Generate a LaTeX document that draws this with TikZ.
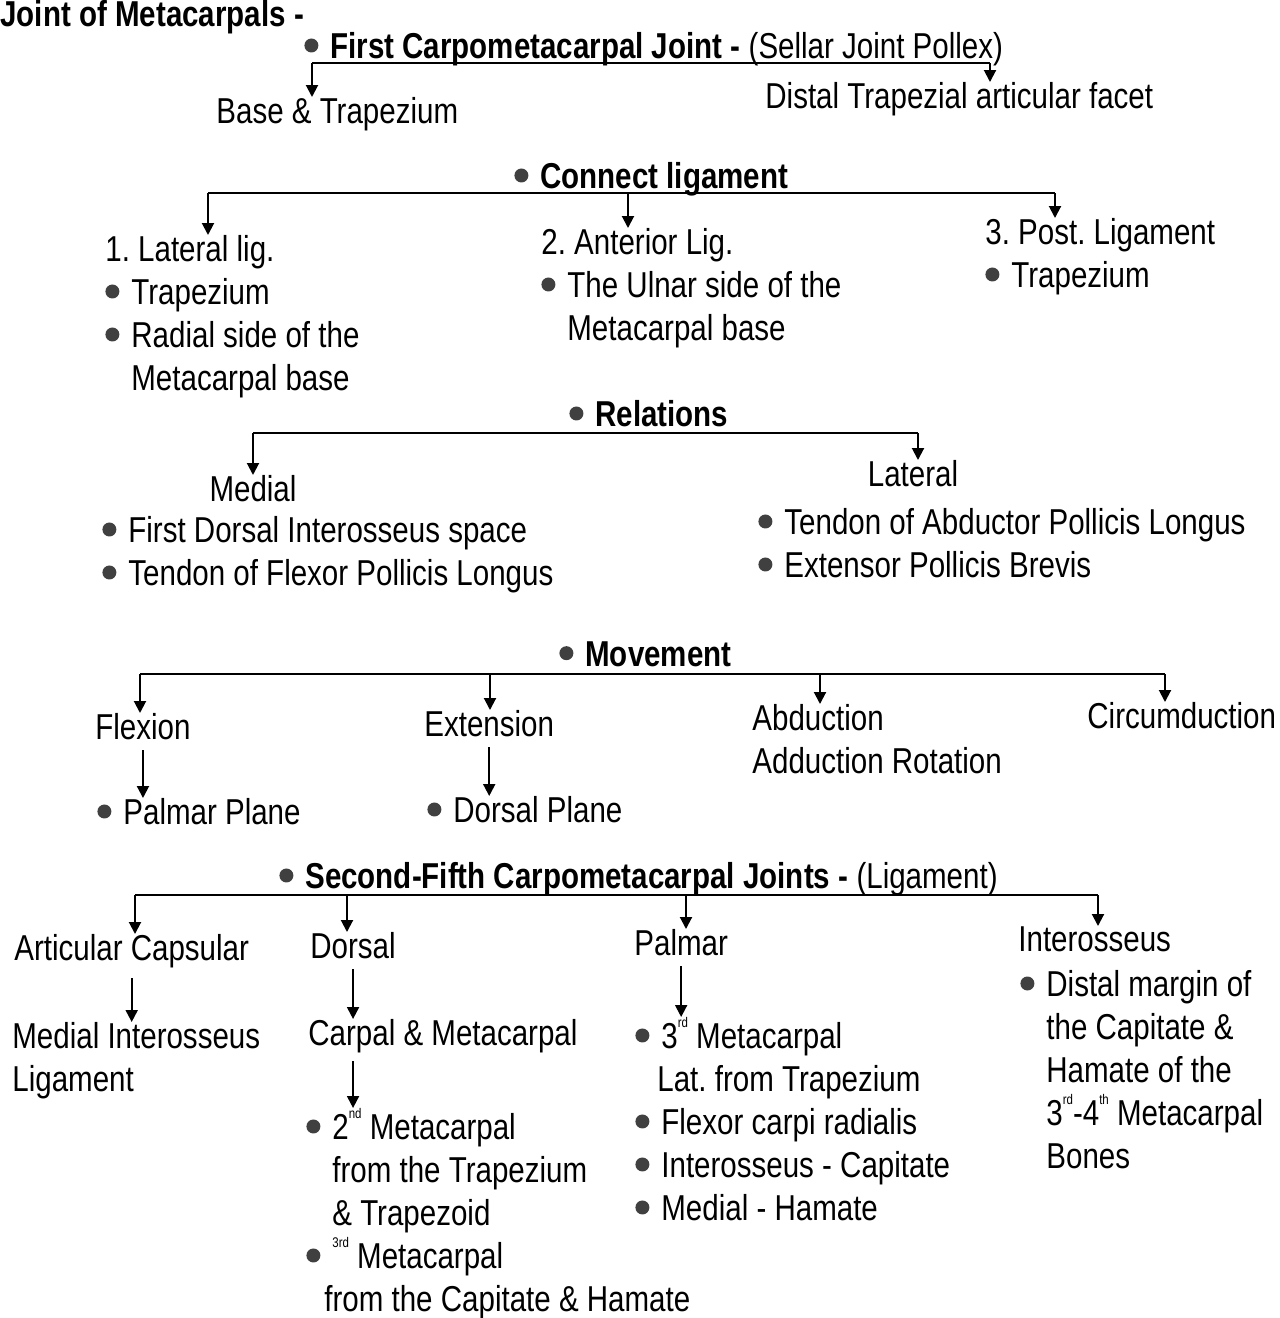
\documentclass[tikz,border=0pt]{standalone}
\usepackage{fontspec}
\setmainfont[FakeStretch=0.82]{Liberation Sans}
\usepackage{xcolor}
\usetikzlibrary{arrows.meta,positioning}
\definecolor{bulgray}{HTML}{404040}
\newcommand{\bul}{\makebox[13pt][l]{\tikz[baseline={(0pt,-6.5pt)}]\fill[bulgray] (0pt,0pt) circle (3.5pt);}}
\newcommand{\hang}{\hspace*{13pt}}
\newcommand{\supr}[1]{\raisebox{1.1ex}{\fontsize{7}{7}\selectfont #1}}
\frenchspacing

\begin{document}
\begin{tikzpicture}[
    x=0.5pt, y=-0.5pt,
    txt/.style={inner sep=0pt, anchor=north west, align=left, font=\fontsize{18}{21.5}\selectfont},
    head/.style={txt, font=\fontsize{18}{21.5}\selectfont\bfseries},
    line/.style={line width=1pt},
    arrow/.style={-{Triangle[length=6pt,width=6pt]}, line width=1pt}
]
\useasboundingbox (0,0) rectangle (1280,1318);

\node[head] (title) at (0,0) {Joint of Metacarpals -};

% First carpometacarpal joint
\node[head] (first) at (304,32) {\bul First Carpometacarpal Joint - \mdseries(Sellar Joint Pollex)};
\node[txt] (base) at (216,97) {Base \& Trapezium};
\node[txt] (distal) at (765,82) {Distal Trapezial articular facet};
\coordinate (fl) at (312,63);
\coordinate (fr) at (990,63);
\draw[line] (fl) -- (fr);
\draw[arrow] (fl) -- (fl |- base.north);
\draw[arrow] (fr) -- (fr |- distal.north);

% Connect ligament
\node[head] (conn) at (514,162) {\bul Connect ligament};
\node[txt] (lat) at (105,235) {1. Lateral lig.\\ \bul Trapezium\\ \bul Radial side of the\\ \hang Metacarpal base};
\node[txt] (ant) at (541,228) {2. Anterior Lig.\\ \bul The Ulnar side of the\\ \hang Metacarpal base};
\node[txt] (post) at (985,218) {3. Post. Ligament\\ \bul Trapezium};
\coordinate (cl) at (208,193);
\coordinate (cm) at (628,193);
\coordinate (cr) at (1055,193);
\draw[line] (cl) -- (cr);
\draw[arrow] (cl) -- (cl |- lat.north);
\draw[arrow] (cm) -- (cm |- ant.north);
\draw[arrow] (cr) -- (cr |- post.north);

% Relations
\node[head] (rel) at (569,400) {\bul Relations};
\node[txt, anchor=north] (med) at (253,475) {Medial};
\node[txt] (meditems) at (102,516) {\bul First Dorsal Interosseus space\\ \bul Tendon of Flexor Pollicis Longus};
\node[txt, anchor=north] (latr) at (913,460) {Lateral};
\node[txt] (latitems) at (758,508) {\bul Tendon of Abductor Pollicis Longus\\ \bul Extensor Pollicis Brevis};
\coordinate (rl) at (253,433);
\coordinate (rr) at (918,433);
\draw[line] (rl) -- (rr);
\draw[arrow] (rl) -- (rl |- med.north);
\draw[arrow] (rr) -- (rr |- latr.north);

% Movement
\node[head] (mov) at (559,641) {\bul Movement};
\node[txt] (flex) at (95,713) {Flexion};
\node[txt] (palm) at (97,798) {\bul Palmar Plane};
\node[txt] (ext) at (424,710) {Extension};
\node[txt] (dors) at (427,796) {\bul Dorsal Plane};
\node[txt] (abd) at (752,704) {Abduction\\Adduction Rotation};
\node[txt] (circ) at (1087,702) {Circumduction};
\coordinate (m1) at (140,674);
\coordinate (m2) at (490,674);
\coordinate (m3) at (820,674);
\coordinate (m4) at (1165,674);
\draw[line] (m1) -- (m4);
\draw[arrow] (m1) -- (m1 |- flex.north);
\draw[arrow] (m2) -- (m2 |- ext.north);
\draw[arrow] (m3) -- (m3 |- abd.north);
\draw[arrow] (m4) -- (m4 |- circ.north);
\draw[arrow, shorten <=5pt] (flex.south) -- (flex.south |- palm.north);
\draw[arrow, shorten <=5pt] (ext.south) -- (ext.south |- dors.north);

% Second-fifth carpometacarpal joints
\node[head] (sec) at (279,862) {\bul Second-Fifth Carpometacarpal Joints - \mdseries(Ligament)};
\node[txt] (artcap) at (14,934) {Articular Capsular};
\node[txt] (medint) at (12,1022) {Medial Interosseus\\Ligament};
\node[txt] (dorsal) at (310,932) {Dorsal};
\node[txt] (carpal) at (308,1019) {Carpal \& Metacarpal};
\node[txt] (ditems) at (306,1108) {\bul 2\supr{nd} Metacarpal\\ \hang from the Trapezium\\ \hang\& Trapezoid\\ \bul\supr{3rd} Metacarpal\\ \hspace*{9pt}from the Capitate \& Hamate};
\node[txt] (palmar) at (634,929) {Palmar};
\node[txt] (pitems) at (635,1017) {\bul 3\supr{rd} Metacarpal\\ \hspace*{11pt}Lat. from Trapezium\\ \bul Flexor carpi radialis\\ \bul Interosseus - Capitate\\ \bul Medial - Hamate};
\node[txt] (inter) at (1018,926) {Interosseus};
\node[txt] (iitems) at (1020,970) {\bul Distal margin of\\ \hang the Capitate \&\\ \hang Hamate of the\\ \hang 3\supr{rd}-4\supr{th} Metacarpal\\ \hang Bones};
\coordinate (s1) at (135,895);
\coordinate (s2) at (347,895);
\coordinate (s3) at (686,895);
\coordinate (s4) at (1098,895);
\draw[line] (s1) -- (s4);
\draw[arrow] (s1) -- (s1 |- artcap.north);
\draw[arrow] (s2) -- (s2 |- dorsal.north);
\draw[arrow] (s3) -- (s3 |- palmar.north);
\draw[arrow] (s4) -- (s4 |- inter.north);
\draw[arrow, shorten <=5pt] (artcap.south) -- (artcap.south |- medint.north);
\draw[arrow, shorten <=5pt] (dorsal.south) -- (dorsal.south |- carpal.north);
\draw[arrow, shorten <=4pt] (carpal.south -| dorsal.south) -- (dorsal.south |- ditems.north);
\draw[arrow, shorten <=5pt] (palmar.south) -- (palmar.south |- pitems.north);

\end{tikzpicture}
\end{document}
